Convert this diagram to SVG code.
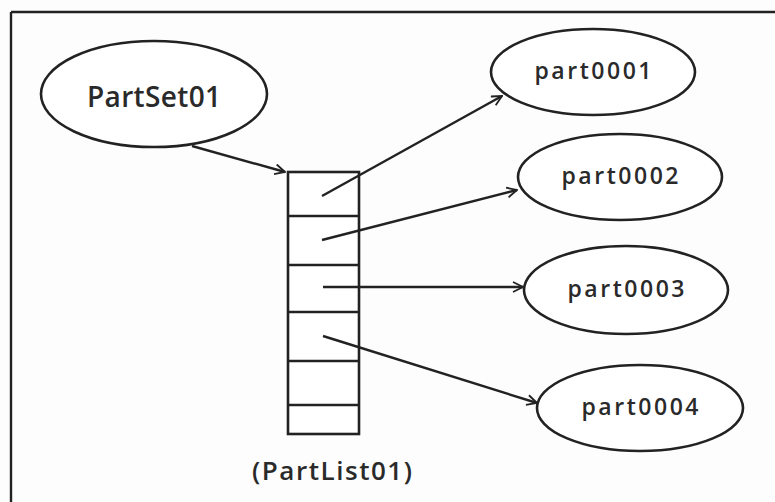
<svg xmlns="http://www.w3.org/2000/svg" width="775" height="502" viewBox="0 0 775 502">
<defs>
<marker id="arr" viewBox="0 0 12 12" refX="11" refY="6" markerWidth="12" markerHeight="12" markerUnits="userSpaceOnUse" orient="auto">
<path d="M1,1 L11,6 L1,11" fill="none" stroke="#222" stroke-width="1.8"/>
</marker>
<style>
.sh{fill:#fff;stroke:#222;stroke-width:2.6}
.ln{fill:none;stroke:#222;stroke-width:2.4}
.t{font-family:"Open Sans","Noto Sans",sans-serif;font-weight:600;fill:#2a2a2a;text-anchor:middle}
</style>
</defs>
<rect width="775" height="502" fill="#fdfdfd"/>
<g id="frame">
<line x1="11" y1="12" x2="775" y2="12" class="ln" stroke-width="2.8"/>
<line x1="11" y1="12" x2="11" y2="502" class="ln" stroke-width="2.8"/>
</g>
<g id="PartSet01">
<ellipse cx="154" cy="94" rx="113" ry="53" class="sh"/>
<text x="154" y="107" class="t" font-size="28" textLength="134" lengthAdjust="spacing">PartSet01</text>
</g>
<g id="PartList01">
<rect x="288" y="172" width="71" height="262" class="sh"/>
<line x1="288" y1="216" x2="359" y2="216" class="ln"/>
<line x1="288" y1="265" x2="359" y2="265" class="ln"/>
<line x1="288" y1="312" x2="359" y2="312" class="ln"/>
<line x1="288" y1="361" x2="359" y2="361" class="ln"/>
<line x1="288" y1="405" x2="359" y2="405" class="ln"/>
<text x="332" y="480" class="t" font-size="26" textLength="160" lengthAdjust="spacing">(PartList01)</text>
</g>
<g id="part0001">
<ellipse cx="593" cy="72" rx="102" ry="43" class="sh"/>
<text x="593" y="79" class="t" font-size="23" textLength="117" lengthAdjust="spacing">part0001</text>
</g>
<g id="part0002">
<ellipse cx="620" cy="177" rx="102" ry="43" class="sh"/>
<text x="620" y="184" class="t" font-size="23" textLength="117" lengthAdjust="spacing">part0002</text>
</g>
<g id="part0003">
<ellipse cx="626" cy="290" rx="102" ry="44" class="sh"/>
<text x="626" y="297" class="t" font-size="23" textLength="117" lengthAdjust="spacing">part0003</text>
</g>
<g id="part0004">
<ellipse cx="640" cy="408" rx="103" ry="43" class="sh"/>
<text x="640" y="415" class="t" font-size="23" textLength="117" lengthAdjust="spacing">part0004</text>
</g>
<g id="connectors">
<line x1="192" y1="146" x2="285" y2="172" class="ln" marker-end="url(#arr)"/>
<line x1="322" y1="196" x2="502" y2="96" class="ln" marker-end="url(#arr)"/>
<line x1="322" y1="240" x2="517" y2="190" class="ln" marker-end="url(#arr)"/>
<line x1="323" y1="287" x2="523" y2="287" class="ln" marker-end="url(#arr)"/>
<line x1="323" y1="336" x2="537" y2="403" class="ln" marker-end="url(#arr)"/>
</g>
</svg>
